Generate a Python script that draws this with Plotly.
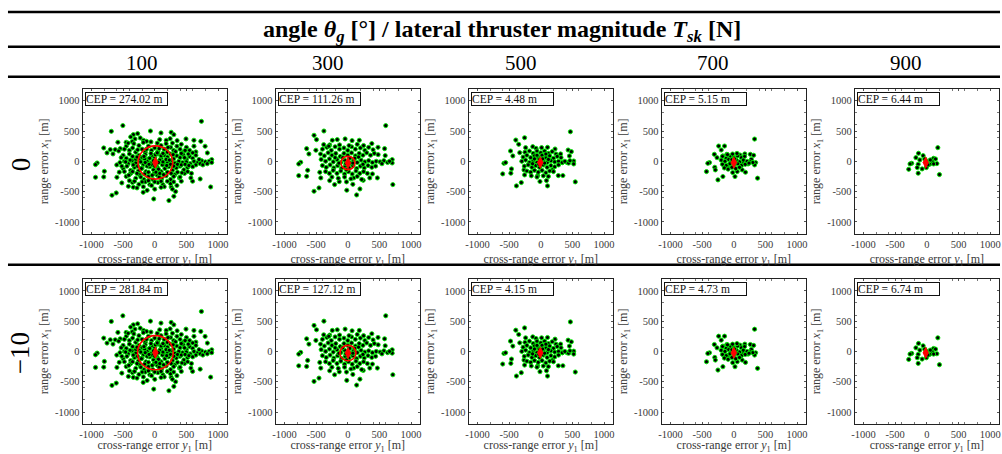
import plotly.graph_objects as go

# ---------------- data ----------------
thrust_labels = ["100", "300", "500", "700", "900"]
angle_labels = ["0", "−10"]
cep_row0 = [274.02, 111.26, 4.48, 5.15, 6.44]
cep_row1 = [281.84, 127.12, 4.15, 4.73, 6.74]
mean_x = [10, 3, -8, 0, -18]
mean_y = [-20, -27, -22, -22, -22]

p1_x = [738, -504, -686, -68, 99, 260, 302, -338, -270, -380, -312, -229, -177, -582, -452, -354, -130, 78, 182, 244, 354, 494, 619, 728,
        -806, -702, -624, -546, -660, -754, 650, 796, 832, 900, -910, -936, -796, -806, -936, -598, -520, -416, -338, -182, -676, -608,
        -16, 224, 260, 302, 598, 718, 884, 572, 390, 130, -78,
        -450, -400, -350, -300, -250, -200, -150, -100, -50, 0, 50, 100, 150, 200, 250, 300, 350, 400, 450, 500, 550,
        -500, -450, -400, -350, -300, -250, -200, -150, -100, -50, 0, 50, 100, 150, 200, 250, 300, 350, 400, 450, 500, 550, 600,
        -550, -480, -420, -360, -300, -240, -180, -120, -60, 30, 80, 140, 200, 260, 320, 380, 440, 500, 560, 620, 680, 740, 800, 860, 900, 650, 720,
        -500, -440, -380, -320, -260, -200, -140, -80, -20, 40, 100, 160, 220, 280, 340, 400, 460, 520,
        -450, -380, -300, -240, -170, -100, -30, 40, 110, 180, 250, 320, 400, 470,
        -350, -250, -150, -50, 50, 150, 250, 350, -80, -20, 20, 60, -40, 100, -120, 120, -160, 180, -220, 10, -10, 70,
        -420, -330, -180, -60, 40, 180, 280, 420, 620, -570, -480, -270, -130, 70, 210, 330, 480, 600,
        -530, -390, -280, -170, -60, 40, 130, 230, 290, 420, 470, 530, 650, 700,
        -600, -520, -460, -340, -270, -210, -150, -90, 0, 60, 130, 190, 250, 300, 360, 420, 480, 540, 600, 760, 830,
        -560, -480, -410, -350, -280, -220, -160, -100, -40, 20, 80, 140, 200, 260, 300, 360, 430, 520, 580,
        -400, -320, -200, -100, 0, 100, 200, 300, 420, -280, -180, 0, 100, 280, 330, -120]
p1_y = [660, 589, 495, 500, 468, 479, 440, 440, 457, 402, 369, 385, 347, 314, 314, 325, 330, 358, 347, 374, 341, 369, 347, 330,
        220, 193, 193, 209, 121, 138, 154, 248, 138, 28, -28, -55, -165, -259, -264, -264, -358, -413, -429, -512, -561, -523,
        -622, -649, -424, -578, -330, -292, -424, -275, -275, -385, -385,
        250, 180, 220, 150, 260, 200, 150, 250, 180, 220, 160, 260, 200, 150, 230, 180, 250, 200, 150, 230, 180,
        100, 50, 120, 80, 30, 100, 60, 110, 40, 90, 60, 120, 50, 100, 70, 120, 40, 90, 60, 110, 30, 80, 50,
        -20, 0, -40, 10, -30, 20, -50, 0, -30, -10, 20, -40, -10, 10, -30, 0, -20, -10, -40, 0, -20, 10, -10, 0, -20, -60, -40,
        -120, -80, -150, -100, -160, -110, -170, -90, -140, -100, -170, -120, -90, -150, -110, -80, -140, -100,
        -250, -200, -280, -220, -300, -250, -300, -230, -290, -240, -300, -220, -260, -200,
        -350, -380, -340, -400, -350, -420, -370, -400, 50, 10, -60, -20, -60, 90, -80, -60, 40, 30, -10, 110, -200, -260,
        300, 290, 310, 320, 300, 290, 300, 280, 250, 170, 200, 190, 200, 210, 230, 160, 180, 140,
        60, 20, 70, 80, 130, 140, 130, 20, 110, 130, 60, 120, 100, 30,
        -60, -80, -10, -60, -80, -120, -20, -50, -80, -130, -10, -70, -50, -80, -50, -60, -50, -70, -90, -60, -40,
        -180, -170, -230, -170, -200, -260, -210, -180, -230, -180, -200, -220, -180, -200, -250, -180, -190, -170, -200,
        -320, -330, -340, -320, -340, -330, -330, -340, -330, -440, -420, -460, -430, -460, -500, -480]

p2_x = [600, -377, -533, -494, -244, -166, -42, 68, 182, -130, -286, -380, -650, -614, -504, 380, 478, 582, 592, 702, 702,
        -744, -775, -634, -650, -775, -442, -426, -286, -135, -208, -533, -455, -16, 140, 192, 348, 468, 390, 712, 94, 244,
        -400, -330, -260, -200, -130, -60, 0, 60, 120, 200, 270, 330, 400,
        -430, -370, -310, -250, -190, -120, -60, 0, 60, 120, 180, 240, 300, 360, 420, 480,
        -420, -350, -290, -230, -170, -110, -50, 40, 90, 150, 210, 270, 330, 390, 450, 510, 570, 630, 660, 540,
        -400, -340, -280, -220, -160, -100, -40, 20, 80, 140, 200, 260, 320, 380, 440,
        -350, -290, -230, -170, -110, -50, 10, 70, 130, 190, 250, 310,
        -250, -150, -50, 50, 150, 220, -20, 80,
        -80, -30, 30, 80, -140, 110, -20, 170, -200, 240, 20, -300, 150, 250]
p2_y = [589, 500, 429, 358, 347, 358, 369, 341, 347, 270, 270, 275, 209, 121, 182, 292, 231, 209, 94, 28, -28,
        -16, -44, -149, -248, -237, -182, -275, -319, -336, -385, -495, -440, -478, -556, -457, -275, -275, -209, -385, -275, -314,
        200, 230, 180, 240, 200, 220, 180, 240, 200, 220, 180, 230, 190,
        120, 90, 140, 100, 130, 80, 130, 100, 140, 90, 130, 100, 140, 100, 130, 110,
        30, 0, 40, -10, 30, -20, 20, -30, 10, -20, 20, -10, 10, -20, 0, -10, 10, -20, 0, -40,
        -70, -100, -60, -110, -70, -120, -80, -110, -70, -120, -80, -110, -70, -100, -80,
        -170, -200, -150, -200, -160, -210, -170, -210, -160, -200, -170, -200,
        -260, -280, -260, -290, -250, -300, -340, -380,
        60, -40, 50, -30, -30, 50, -140, 70, 60, -50, 260, 250, 280, 260]

p3_x = [468, -256, -395, -349, -240, -127, -75, 13, 106, 225, -478, -442, -333, 313, 432, 483, 452, 520, 520, 339, 416,
        -582, -556, -463, -473, -602, -266, -256, -49, -13, 90, 106, -308, -385, 277, 349, 545, -127, 184,
        -250, -180, -120, -60, 0, 60, 120, 180, 240,
        -280, -220, -160, -100, -40, 20, 80, 140, 200, 260, 320,
        -300, -240, -180, -120, -60, 40, 100, 160, 220, 280, 340, 380, 440, 460, -20,
        -260, -200, -140, -80, -20, 40, 100, 160, 220, 280,
        -220, -160, -100, -40, 20, 80, 140, 200,
        -60, 40, -150, 120,
        -100, 60, -30, 30, 120, -130, -60, 80]
p3_y = [488, 389, 351, 280, 225, 241, 214, 225, 230, 203, 170, 88, 142, 121, 186, 159, 88, 5, -44, -22, -22,
        -33, -22, -126, -197, -208, -142, -225, -236, -334, -318, -406, -351, -406, -236, -236, -340, -88, -142,
        150, 170, 130, 170, 140, 170, 130, 160, 120,
        70, 100, 60, 90, 60, 100, 60, 90, 50, 80, 60,
        0, 20, -20, 10, -20, 10, -20, 10, -10, 0, -20, 0, -30, 10, 30,
        -80, -60, -100, -70, -100, -60, -100, -70, -90, -60,
        -160, -180, -150, -180, -150, -190, -160, -170,
        -260, -240, -240, -250,
        40, -30, -50, 40, 30, -40, 100, 120]

p4_x = [328, -240, -147, -199, -308, -266, -173, -111, -23, 96, 173, 261, 313, 277, 344, 328, -385, -411, -432, -301, -292,
        -173, -251, 18, -18, 54, 132, 184, 375, 147, 225, -85, -137,
        -180, -120, -60, 0, 60, 120, 170,
        -200, -140, -80, -40, 40, 90, 150, 210, 260, 300,
        -180, -120, -60, 0, 60, 120, 180, 240,
        -150, -90, -30, 30, 90,
        -100, -20, 50, -30, 20, -10, 10]
p4_y = [367, 252, 252, 186, 115, 60, 88, 115, 77, 104, 121, 115, 99, 33, -22, -60, -22, -33, -170, -99, -142,
        -252, -307, -252, -186, -170, -142, -181, -279, -33, -44, -60, -88,
        80, 50, 80, 60, 90, 60, 80,
        20, 0, 30, 0, 20, -10, 20, 0, -10, -20,
        -50, -70, -40, -60, -40, -70, -50, -30,
        -110, -130, -100, -120, -100,
        110, 120, 130, 30, -20, -30, 40]

p5_x = [173, -132, -59, -173, -111, 106, 137, 85, 158, 106, 44, -240, -266, -287, -137, -152, -75, -137, -8, 18, 199, -34, -8, 54]
p5_y = [225, 132, 93, 60, 22, 49, 38, -5, -38, -44, -49, -33, -44, -132, -49, -104, -126, -197, -104, -60, -219, 38, 5, 22]

points_x = [p1_x, p2_x, p3_x, p4_x, p5_x]
points_y = [p1_y, p2_y, p3_y, p4_y, p5_y]

tick_vals = [-1000, -500, 0, 500, 1000]
tick_text = ["-1000", "-500", "0", "500", "1000"]

# ---------------- layout geometry ----------------
W, H = 1002, 454
col_left = [80, 274, 468, 662, 856]
panel_w = 145
row_top = [89, 280]
panel_h = 146

serif = "Liberation Serif"
grey = "#3a3a3a"

fig = go.Figure()
shapes = []
annotations = []

for r in range(2):
    ceps = cep_row0 if r == 0 else cep_row1
    for c in range(5):
        idx = r * 5 + c + 1
        xa = "x" if idx == 1 else f"x{idx}"
        ya = "y" if idx == 1 else f"y{idx}"
        xkey = "xaxis" if idx == 1 else f"xaxis{idx}"
        ykey = "yaxis" if idx == 1 else f"yaxis{idx}"
        fig.add_trace(go.Scatter(
            x=points_x[c], y=points_y[c], mode="markers", xaxis=xa, yaxis=ya,
            marker=dict(color="black", size=4.2, line=dict(color="#00ee00", width=0.9)),
            showlegend=False, hoverinfo="skip"))
        cep = ceps[c]
        cx, cy = mean_x[c], mean_y[c]
        shapes.append(dict(type="circle", xref=xa, yref=ya, x0=cx - cep, x1=cx + cep,
                           y0=cy - cep, y1=cy + cep, line=dict(color="red", width=1.6)))
        fig.add_trace(go.Scatter(
            x=[cx], y=[cy], mode="markers", xaxis=xa, yaxis=ya,
            marker=dict(color="red", symbol="diamond-tall", size=9, line=dict(width=0)),
            showlegend=False, hoverinfo="skip"))
        x0 = col_left[c] / W
        x1 = (col_left[c] + panel_w) / W
        y1 = 1 - row_top[r] / H
        y0 = 1 - (row_top[r] + panel_h) / H
        axis_common = dict(
            showgrid=False, zeroline=False, showline=True, linecolor="#222", linewidth=1,
            mirror="allticks", ticks="inside", ticklen=2, tickcolor="#555",
            tickvals=tick_vals, ticktext=tick_text,
            tickfont=dict(family=serif, size=10.5, color=grey),
            minor=dict(ticks="inside", ticklen=2, dtick=200, tickcolor="#777"),
            fixedrange=True)
        fig.layout[xkey] = dict(axis_common, domain=[x0, x1], range=[-1140, 1140], anchor=ya,
                                title=dict(text="cross-range error <i>y</i><sub>1</sub> [m]",
                                           font=dict(family=serif, size=12, color=grey), standoff=6))
        fig.layout[ykey] = dict(axis_common, domain=[y0, y1], range=[-1200, 1200], anchor=xa,
                                title=dict(text="range error <i>x</i><sub>1</sub> [m]",
                                           font=dict(family=serif, size=12, color=grey), standoff=3))
        annotations.append(dict(
            xref=f"{xa} domain", yref=f"{ya} domain", x=0.015, y=0.975, xanchor="left", yanchor="top",
            text=f"CEP = {cep:.2f} m", showarrow=False, align="left", width=81, height=12,
            font=dict(family=serif, size=11.5, color="#111"), bordercolor="#111", borderwidth=1,
            borderpad=0, bgcolor="white"))

# header lines
for ypx in [12, 47, 77, 266]:
    shapes.append(dict(type="line", xref="paper", yref="paper", x0=5 / W, x1=1, y0=1 - ypx / H, y1=1 - ypx / H,
                       line=dict(color="black", width=2.5)))

annotations.append(dict(
    xref="paper", yref="paper", x=502 / W, y=1 - 31 / H, xanchor="center", yanchor="middle", showarrow=False,
    text="<b>angle <i>θ</i><sub><i>g</i></sub> [°] / lateral thruster magnitude <i>T</i><sub><i>sk</i></sub> [N]</b>",
    font=dict(family=serif, size=24, color="black")))

header_x = [140, 327, 521, 714, 908]
for lbl, hx in zip(thrust_labels, header_x):
    annotations.append(dict(xref="paper", yref="paper", x=hx / W, y=1 - 63 / H, xanchor="center", yanchor="middle",
                            showarrow=False, text=lbl, font=dict(family=serif, size=21, color="black")))

row_label_y = [165, 355]
for lbl, ry in zip(angle_labels, row_label_y):
    annotations.append(dict(xref="paper", yref="paper", x=18 / W, y=1 - ry / H, xanchor="center", yanchor="middle",
                            showarrow=False, text=lbl, textangle=-90,
                            font=dict(family=serif, size=27, color="black")))

fig.update_layout(
    width=W, height=H, margin=dict(l=0, r=0, t=0, b=0),
    paper_bgcolor="white", plot_bgcolor="white",
    shapes=shapes, annotations=annotations)

fig.write_html("out.html", config={"displayModeBar": False},
               post_script="document.body.style.margin='0';document.body.style.overflow='hidden';")
